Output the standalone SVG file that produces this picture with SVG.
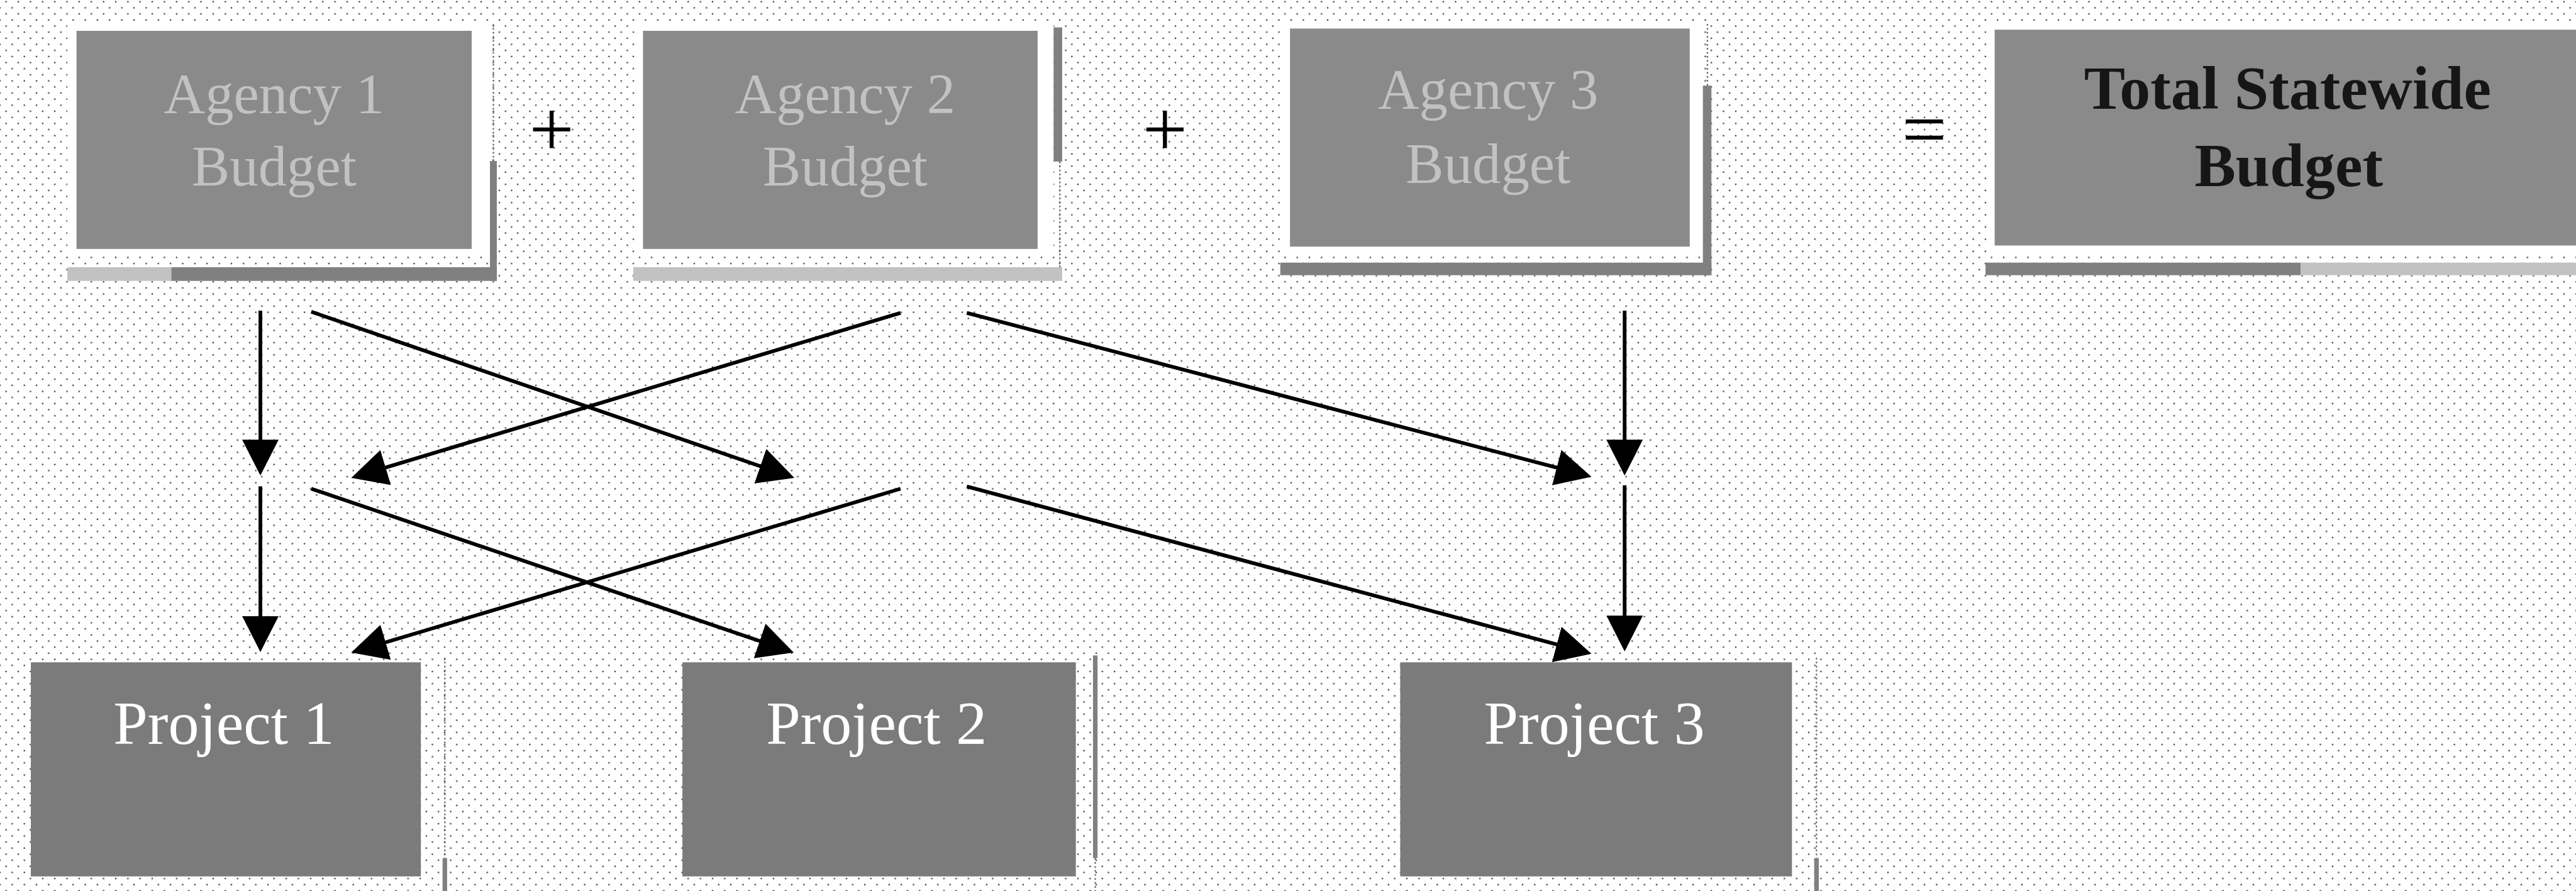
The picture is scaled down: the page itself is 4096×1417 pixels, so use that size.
<svg xmlns="http://www.w3.org/2000/svg" width="4096" height="1417" viewBox="0 0 4096 1417">
<defs>
<pattern id="dots" width="21.33" height="21.33" patternUnits="userSpaceOnUse">
<circle cx="10.67" cy="3" r="1.5" fill="#444"/>
<circle cx="0" cy="13.67" r="1.5" fill="#444"/>
<circle cx="21.33" cy="13.67" r="1.5" fill="#444"/>
</pattern>
<marker id="ah" markerUnits="userSpaceOnUse" markerWidth="64" markerHeight="64" refX="51" refY="32" orient="auto" viewBox="0 0 64 64">
<path d="M0,0 L63,32 L0,64 Z" fill="#000"/>
</marker>
<style>
.conn line{stroke:#000;stroke-width:6.5;marker-end:url(#ah);}
.frame{fill:#fff;}
.afill{fill:#8a8a8a;}
.pfill{fill:#7b7b7b;}
.solid{fill:#808080;}
.hatch{fill:#c2c2c2;}
.dotl{stroke:#6a6a6a;stroke-width:2.5;stroke-dasharray:3 4;fill:none;}
.at{font-family:"Liberation Serif","Times New Roman",serif;font-size:100px;fill:#c2c2c2;text-anchor:middle;}
.tt{font-family:"Liberation Serif","Times New Roman",serif;font-size:108px;font-weight:bold;fill:#161616;text-anchor:middle;}
.pt{font-family:"Liberation Serif","Times New Roman",serif;font-size:108px;fill:#fff;text-anchor:middle;}
.op{font-family:"Liberation Serif","Times New Roman",serif;font-size:140px;fill:#000;text-anchor:middle;}
</style>
</defs>
<g transform="scale(0.908)">
<rect x="0" y="0" width="4520" height="1570" fill="#fff"/>
<rect x="0" y="0" width="4520" height="1570" fill="url(#dots)"/>

<g id="agency1">
<rect class="frame" x="118" y="40" width="740" height="407"/>
<rect class="afill" x="134" y="54" width="692" height="382"/>
<line class="dotl" x1="864" y1="42" x2="864" y2="282"/>
<rect class="solid" x="858" y="282" width="12" height="210"/>
<rect class="hatch" x="118" y="468" width="182" height="24"/>
<rect class="solid" x="300" y="468" width="570" height="24"/>
<text class="at" x="480" y="198">Agency 1</text>
<text class="at" x="480" y="325">Budget</text>
</g>

<text class="op" x="966" y="273">+</text>

<g id="agency2">
<rect class="frame" x="1112" y="40" width="733" height="407"/>
<rect class="afill" x="1126" y="54" width="691" height="382"/>
<rect class="solid" x="1845" y="48" width="15" height="235"/>
<line class="dotl" x1="1856" y1="283" x2="1856" y2="492"/>
<rect class="hatch" x="1109" y="468" width="751" height="24"/>
<text class="at" x="1480" y="198">Agency 2</text>
<text class="at" x="1480" y="325">Budget</text>
</g>

<text class="op" x="2040" y="273">+</text>

<g id="agency3">
<rect class="frame" x="2245" y="38" width="737" height="407"/>
<rect class="afill" x="2259" y="50" width="700" height="382"/>
<line class="dotl" x1="2990" y1="42" x2="2990" y2="150"/>
<rect class="solid" x="2982" y="150" width="15" height="332"/>
<rect class="solid" x="2242" y="460" width="755" height="22"/>
<text class="at" x="2606" y="190">Agency 3</text>
<text class="at" x="2606" y="320">Budget</text>
</g>

<text class="op" x="3370" y="273">=</text>

<g id="total">
<rect class="frame" x="3481" y="38" width="1050" height="407"/>
<rect class="afill" x="3493" y="52" width="1040" height="378"/>
<rect class="solid" x="3477" y="460" width="552" height="22"/>
<rect class="hatch" x="4029" y="460" width="500" height="22"/>
<text class="tt" x="4006" y="190">Total Statewide</text>
<text class="tt" x="4008" y="326">Budget</text>
</g>

<g id="project1">
<rect class="pfill" x="54" y="1160" width="683" height="375"/>
<line class="dotl" x1="779" y1="1152" x2="779" y2="1503"/>
<rect class="solid" x="775" y="1503" width="8" height="60"/>
<text class="pt" x="392" y="1303">Project 1</text>
</g>

<g id="project2">
<rect class="pfill" x="1195" y="1160" width="689" height="375"/>
<rect class="solid" x="1914" y="1148" width="8" height="355"/>
<line class="dotl" x1="1918" y1="1503" x2="1918" y2="1562"/>
<text class="pt" x="1535" y="1303">Project 2</text>
</g>

<g id="project3">
<rect class="pfill" x="2452" y="1160" width="686" height="375"/>
<line class="dotl" x1="3181" y1="1152" x2="3181" y2="1503"/>
<rect class="solid" x="3177" y="1503" width="8" height="60"/>
<text class="pt" x="2792" y="1303">Project 3</text>
</g>

<g id="connectors" class="conn">
<line x1="456" y1="544" x2="456" y2="821"/>
<line x1="545" y1="546" x2="1379.7" y2="833.1"/>
<line x1="1577" y1="548" x2="626.5" y2="833.5"/>
<line x1="1693" y1="548" x2="2775.4" y2="832"/>
<line x1="2845" y1="544" x2="2845" y2="821"/>
<line x1="456" y1="852" x2="456" y2="1130"/>
<line x1="545" y1="856" x2="1378.6" y2="1139.1"/>
<line x1="1577" y1="856" x2="626.5" y2="1139.6"/>
<line x1="1693" y1="852" x2="2775.4" y2="1141.9"/>
<line x1="2845" y1="850" x2="2845" y2="1129"/>
</g>
</g>
</svg>
